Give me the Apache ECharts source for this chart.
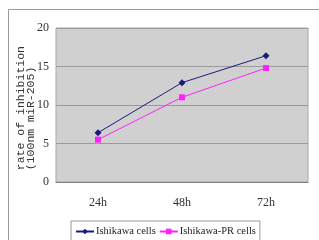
<!DOCTYPE html>
<html>
<head>
<meta charset="utf-8">
<script src="https://cdn.jsdelivr.net/npm/echarts@6/dist/echarts.min.js"></script>
<style>
    html, body { margin: 0; padding: 0; background: #fff; }
    #chart { width: 319px; height: 240px; }
</style>
</head>
<body>
<div id="chart"></div>
<script>
const categories = ['24h', '48h', '72h']
const ishikawa = [6.4, 12.9, 16.4]
const ishikawaPR = [5.5, 11.0, 14.8]
const yTicks = [0, 5, 10, 15, 20]

const myChart = echarts.init(document.getElementById('chart'))
const option = {
    animation: false,
    graphic: [
        // 外框
        { type: 'line', shape: { x1: 8.5, y1: 9.5, x2: 319, y2: 9.5 }, style: { stroke: '#9a9a9a', lineWidth: 1 } },
        { type: 'line', shape: { x1: 8.5, y1: 9.5, x2: 8.5, y2: 240 }, style: { stroke: '#9a9a9a', lineWidth: 1 } },
        {
            type: 'text', left: 15, top: 46,
            rotation: Math.PI / 2,
            style: { text: 'rate of inhibition\n(100nm miR-205)', font: '11.5px "Liberation Mono"', fill: '#333', lineHeight: 10, align: 'center' }
        }
    ],
    grid: {
        left: 56, right: 11, top: 28, bottom: 58,
        show: true,
        backgroundColor: '#d0d0d0',
        borderColor: '#a8a8a8',
        borderWidth: 1
    },
    xAxis: {
        type: 'category',
        data: categories,
        boundaryGap: true,
        axisLine: { lineStyle: { color: '#808080', width: 1 } },
        axisTick: { inside: true, length: 4, lineStyle: { color: '#808080' } },
        axisLabel: { color: '#333', fontFamily: 'Liberation Serif', fontSize: 12, margin: 15 }
    },
    yAxis: {
        type: 'value',
        min: yTicks[0],
        max: yTicks[yTicks.length - 1],
        interval: 5,
        axisLine: { show: false },
        axisTick: { show: false },
        axisLabel: { color: '#333', fontFamily: 'Liberation Serif', fontSize: 12, margin: 7 },
        splitLine: { lineStyle: { color: '#9a9a9a', width: 1 } }
    },
    legend: {
        left: 71, top: 221,
        padding: [5, 4, 6, 4],
        borderColor: '#999',
        borderWidth: 1,
        backgroundColor: '#fff',
        itemWidth: 18,
        itemHeight: 7,
        itemGap: 3,
        textStyle: { fontFamily: 'Liberation Serif', fontSize: 10.5, color: '#222', padding: [0, 0, 0, -3] },
        data: ['Ishikawa cells', 'Ishikawa-PR cells']
    },
    series: [
        {
            name: 'Ishikawa cells',
            type: 'line',
            data: ishikawa,
            symbol: 'diamond',
            symbolSize: 7,
            lineStyle: { color: '#1a1a80', width: 1 },
            itemStyle: { color: '#1a1a80' }
        },
        {
            name: 'Ishikawa-PR cells',
            type: 'line',
            data: ishikawaPR,
            symbol: 'rect',
            symbolSize: 6,
            lineStyle: { color: '#ff22ff', width: 1 },
            itemStyle: { color: '#ff22ff' }
        }
    ]
}
myChart.setOption(option)
</script>
</body>
</html>
